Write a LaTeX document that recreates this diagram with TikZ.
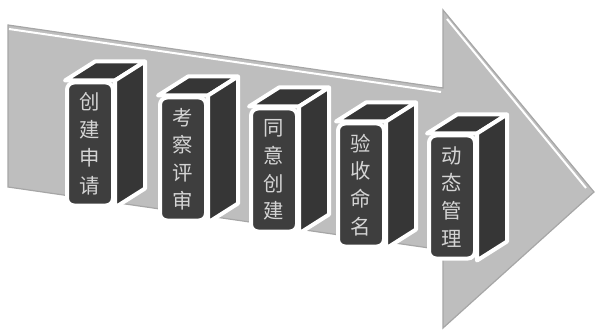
\documentclass[tikz,border=0pt]{standalone}
\usepackage{fontspec}
\newfontfamily\cjk{Noto Sans CJK SC}
\usepackage{tikz}
\usetikzlibrary{arrows,shapes}
\definecolor{arrowgray}{RGB}{190,190,190}
\definecolor{blockdark}{RGB}{62,62,62}
\definecolor{blockside}{RGB}{54,54,54}
\definecolor{blocktext}{RGB}{212,212,212}
\tikzstyle{arrowbody}=[fill=arrowgray,draw=gray!70,line width=0.3mm]
\tikzstyle{shine}=[draw=white,line width=0.5mm]
\tikzstyle{block}=[rectangle,rounded corners=1.8mm,fill=blockdark,draw=white,line width=1mm,
  minimum width=11.5mm,minimum height=30.75mm,inner sep=0pt,align=center,
  text=blocktext,font=\cjk\fontsize{14.5pt}{19.8pt}\selectfont]
\tikzstyle{blockface}=[fill=blockside,draw=white,line width=1mm,line join=round]
\newcommand{\blockfaces}[1]{%
  \draw[blockface] (#1.north west) -- ([shift={(30,-19)}]#1.north west)
    -- ([shift={(30,-19)}]#1.north east) -- (#1.north east) -- cycle;
  \draw[blockface] (#1.north east) -- ([shift={(30,-19)}]#1.north east)
    -- ([shift={(30,-19)}]#1.south east) -- (#1.south east) -- cycle;}

\begin{document}
\begin{tikzpicture}[x=0.25mm,y=-0.25mm]
        \useasboundingbox (0,0) rectangle (596,330);
        % big arrow
        \draw[arrowbody] (8,25) -- (443,88) -- (443,10) -- (594,192) -- (443,328)
          -- (443,250) -- (8,187) -- cycle;
        \draw[shine] (9,29) -- (441,92);
        \draw[shine] (447,19) -- (586,188);
        % blocks
        \node[block] (apply) at (90,144) {创\\建\\申\\请};
        \blockfaces{apply}
        \node[block] (review) at (183,159) {考\\察\\评\\审};
        \blockfaces{review}
        \node[block] (agree) at (274,170) {同\\意\\创\\建};
        \blockfaces{agree}
        \node[block] (accept) at (361,185) {验\\收\\命\\名};
        \blockfaces{accept}
        \node[block] (manage) at (452,197) {动\\态\\管\\理};
        \blockfaces{manage}
      \end{tikzpicture}
\end{document}
